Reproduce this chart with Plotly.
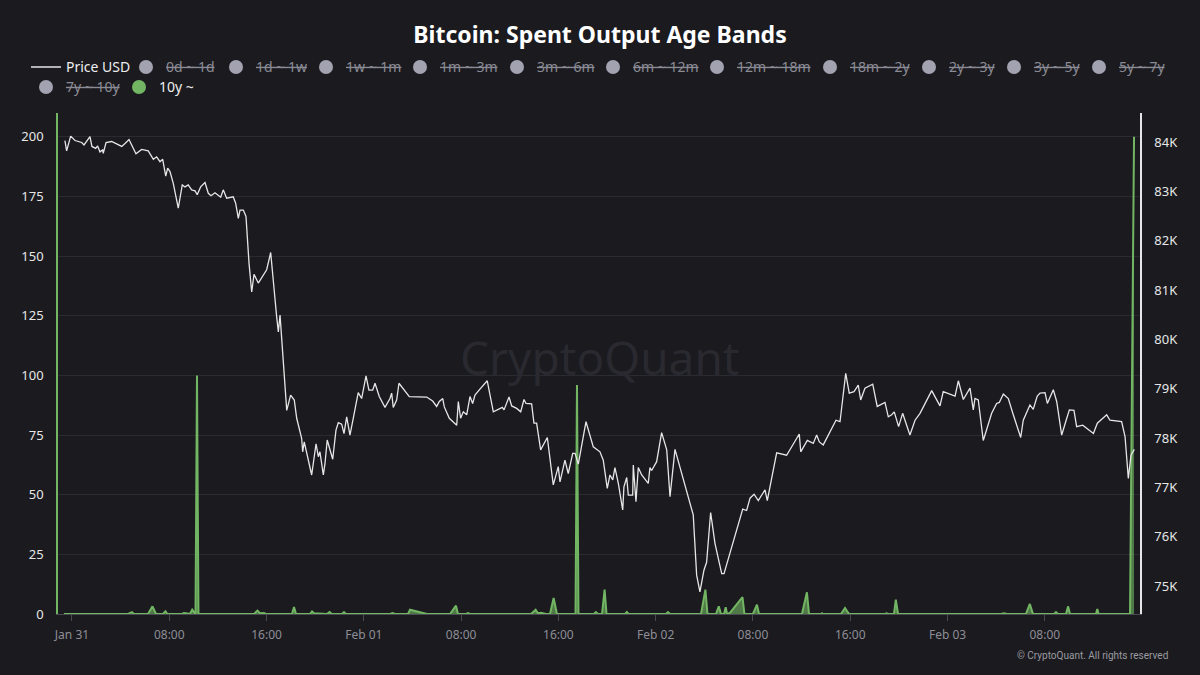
import pandas as pd
import plotly.graph_objects as go

# ---------------- data ----------------
BASE_TIME = pd.Timestamp("2026-01-31 00:00")

PRICE_HOURS = [
    -0.58, -0.44, -0.11, 0.25, 0.80, 0.99, 1.48, 1.64, 1.95, 2.11, 2.30, 2.52, 2.57, 2.80, 3.26,
    4.09, 4.36, 4.69, 5.26, 5.73, 6.27, 6.69, 6.96, 7.24, 7.46, 7.71, 7.87, 8.06, 8.33, 8.74,
    9.07, 9.29, 9.56, 9.84, 10.12, 10.30, 10.58, 10.94, 11.21, 11.43, 11.76, 12.23, 12.44, 12.72,
    13.26, 13.46, 13.68, 13.82, 14.09, 14.31, 14.56, 14.78, 14.97, 15.32, 16.01, 16.34, 16.83,
    16.97, 17.11, 17.66, 17.98, 18.28, 18.48, 18.89, 18.97, 19.10, 19.71, 20.07, 20.26, 20.39,
    20.67, 20.81, 20.99, 21.44, 21.71, 21.90, 22.18, 22.37, 22.59, 22.86, 23.13, 23.54, 23.82,
    24.18, 24.42, 24.73, 24.92, 25.27, 25.74, 26.15, 26.29, 26.42, 26.70, 26.89, 27.74, 29.17,
    29.66, 29.99, 30.21, 30.49, 30.62, 30.86, 31.03, 31.64, 31.77, 31.96, 32.18, 32.46, 32.73,
    32.95, 33.14, 33.55, 34.15, 34.65, 35.06, 35.39, 35.53, 35.94, 36.16, 36.57, 36.90, 37.17,
    37.34, 37.80, 37.99, 38.21, 38.54, 39.09, 39.58, 39.99, 40.13, 40.54, 40.81, 41.18, 41.37,
    41.64, 42.27, 42.87, 43.42, 43.69, 44.02, 44.24, 44.47, 44.65, 44.93, 45.29, 45.39, 45.62,
    45.75, 46.11, 46.16, 46.38, 46.57, 46.85, 47.39, 47.53, 47.67, 48.08, 48.49, 48.91, 49.18,
    49.59, 51.09, 51.37, 51.64, 51.97, 52.19, 52.52, 52.88, 53.43, 53.62, 54.52, 55.16, 55.48,
    55.76, 56.09, 56.44, 56.99, 57.18, 57.95, 58.77, 59.81, 59.93, 60.47, 60.96, 61.24, 61.46,
    61.78, 62.83, 63.16, 63.63, 63.92, 64.31, 64.66, 64.86, 65.21, 65.85, 66.22, 66.86, 67.13,
    67.41, 67.62, 67.98, 68.31, 68.91, 69.33, 69.74, 70.70, 71.38, 71.65, 72.62, 72.89, 73.30,
    73.85, 74.12, 74.26, 74.53, 74.94, 75.63, 76.04, 76.26, 76.59, 77.00, 77.41, 78.02, 78.23,
    78.78, 79.05, 79.38, 79.61, 80.02, 80.21, 80.70, 80.98, 81.39, 81.72, 82.02, 82.40, 82.62,
    83.12, 83.45, 84.00, 84.32, 85.09, 85.36, 86.32, 86.60, 86.87, 87.09, 87.36,
]
PRICE_USD = [
    84030, 83820, 84120, 84030, 83990, 83940, 84110, 83910, 83870, 83920, 83800, 83840, 83770, 83990, 84010,
    83910, 83970, 84050, 83760, 83850, 83820, 83650, 83700, 83600, 83650, 83310, 83470, 83400, 83160, 82660,
    83130, 83090, 83130, 83030, 83010, 82930, 83090, 83180, 82960, 82910, 82970, 82880, 83030, 82860,
    82890, 82760, 82450, 82620, 82620, 82490, 81540, 80960, 81320, 81140, 81410, 81760, 80460,
    80150, 80490, 78560, 78870, 78770, 78400, 77990, 77720, 77920, 77250, 77880, 77620, 77720,
    77250, 77490, 77960, 77570, 78160, 78310, 78280, 78090, 78430, 78060, 78400, 78920, 78800,
    79260, 78970, 78970, 79110, 78840, 78620, 78800, 78910, 78620, 78770, 79110, 78840, 78830,
    78750, 78640, 78740, 78800, 78630, 78470, 78400, 78260, 78740, 78400, 78530, 78470, 78840,
    78700, 78870, 78990, 79160, 78530, 78580, 78620, 78570, 78830, 78650, 78600, 78530, 78780,
    78700, 78690, 78300, 78300, 77760, 78010, 77050, 77420, 77110, 77550, 77280, 77690, 77690,
    77470, 78330, 77820, 77720, 77550, 76980, 77250, 77150, 77400, 77080, 76540, 77010, 77200,
    76840, 76840, 77450, 76710, 77400, 77250, 77080, 77400, 77340, 77520, 78110, 77760, 76810,
    77770, 76440, 75220, 74880, 75320, 75480, 76490, 75860, 75250, 75250, 76000, 76560, 76530,
    76780, 76860, 76730, 76950, 76730, 77700, 77650, 78080, 77720, 77950, 77890, 78060, 77920,
    77860, 78360, 78330, 79310, 78910, 78940, 79070, 78770, 79010, 79090, 78640, 78720, 78430,
    78470, 78530, 78230, 78500, 78060, 78360, 78500, 78960, 78650, 78940, 78850, 79160, 78780,
    79010, 78570, 78800, 78770, 77950, 78500, 78700, 78720, 78890, 78800, 78470, 78010, 78360,
    78670, 78580, 78850, 78910, 78920, 78700, 78980, 78740, 78060, 78330, 78570, 78560, 78230,
    78260, 78200, 78090, 78300, 78470, 78360, 78330, 78030, 77180, 77650, 77770,
]

BAND_10Y_HOURS = [
    -0.66, 4.61, 4.93, 5.10, 6.25, 6.62, 6.91, 7.48, 7.69, 7.85,
    9.05, 9.21, 9.38, 9.70, 9.89, 10.07, 10.16, 10.28, 10.40,
    14.97, 15.25, 15.46, 15.79, 15.95, 18.09, 18.26, 18.42,
    19.57, 19.74, 19.90, 20.39, 20.97, 21.18, 21.38, 22.20, 22.37, 22.53,
    26.15, 26.37, 26.56, 27.63, 27.80, 29.19, 31.09, 31.58, 31.74,
    32.40, 32.57, 32.73, 33.55, 33.63, 34.46, 34.54,
    37.75, 38.13, 38.32, 38.57, 38.98, 39.31, 39.61, 39.88,
    41.41, 41.53, 41.65, 42.93, 43.08, 43.26, 43.59, 43.80, 43.96,
    45.48, 45.63, 45.76, 48.03, 48.15, 48.27, 48.85, 49.01, 49.18,
    51.73, 52.09, 52.26, 52.96, 53.19, 53.37, 53.62, 53.76, 53.87,
    54.11, 55.14, 55.30, 56.00, 56.33, 56.50,
    60.03, 60.44, 60.61, 61.60, 61.68, 61.76, 63.24, 63.57, 63.90,
    66.86, 66.99, 67.11, 67.60, 67.75, 67.93,
    76.40, 76.64, 76.89, 78.45, 78.77, 79.03, 80.76, 80.92, 81.09,
    81.74, 81.92, 82.07, 84.21, 84.32, 84.42, 87.01, 87.34,
]
BAND_10Y_VALUES = [
    0, 0, 0.8, 0, 0, 3.2, 0, 0, 1.1, 0,
    0, 0.4, 0.3, 0, 1.8, 0.5, 0, 100, 0,
    0, 1.4, 0.3, 0.4, 0, 0, 2.9, 0,
    0, 1.1, 0.3, 0.3, 0, 0.8, 0, 0, 0.8, 0,
    0, 0.4, 0, 0, 1.8, 0, 0, 3.5, 0,
    0, 0.4, 0, 0, 0.3, 0.3, 0,
    0, 1.8, 0.3, 0.5, 0, 0, 6.7, 0,
    0, 96, 0, 0, 0.8, 0, 0, 10.2, 0,
    0, 0.8, 0, 0, 0.3, 0, 0, 0.8, 0,
    0, 10.2, 0, 0, 3.2, 0, 0, 2.8, 0,
    0.5, 7.1, 0, 0, 3.9, 0,
    0, 9.1, 0, 0, 0.3, 0, 0, 2.5, 0,
    0, 0.3, 0, 0, 6.0, 0,
    0, 0.3, 0, 0, 4.2, 0, 0, 0.8, 0,
    0, 3.2, 0, 0, 2.1, 0, 0, 200,
]

HIDDEN_BANDS_ROW1A = ["0d ~ 1d", "1d ~ 1w", "1w ~ 1m", "1m ~ 3m", "3m ~ 6m"]
HIDDEN_BANDS_ROW1B = ["6m ~ 12m", "12m ~ 18m", "18m ~ 2y", "2y ~ 3y", "3y ~ 5y", "5y ~ 7y"]
HIDDEN_BANDS_ROW2 = ["7y ~ 10y"]
VISIBLE_BAND = "10y ~"
PRICE_NAME = "Price USD"

X_TICK_HOURS = [0, 8, 16, 24, 32, 40, 48, 56, 64, 72, 80]
X_TICK_LABELS = ["Jan 31", "08:00", "16:00", "Feb 01", "08:00", "16:00",
                 "Feb 02", "08:00", "16:00", "Feb 03", "08:00"]
LEFT_TICKS = [0, 25, 50, 75, 100, 125, 150, 175, 200]
RIGHT_TICKS = [75000, 76000, 77000, 78000, 79000, 80000, 81000, 82000, 83000, 84000]
RIGHT_TICK_LABELS = ["75K", "76K", "77K", "78K", "79K", "80K", "81K", "82K", "83K", "84K"]

X_RANGE_HOURS = [-1.15, 87.83]
LEFT_RANGE = [0, 210]
RIGHT_RANGE = [74432, 84588]

# ---------------- styling ----------------
FONT = "Noto Sans"
BG = "#1a1a1f"
GREEN = "#72b563"
GREEN_FILL = "rgba(114,181,99,0.62)"
PRICE_COLOR = "#e6e6e6"
HIDDEN_DOT = "#a3a2b0"
HIDDEN_TEXT = "#8b8b95"
PRICE_WIDTH = 55
ROW1A_WIDTHS = [45, 45, 49, 52, 62]
ROW1B_WIDTHS = [59, 68, 54, 40, 40, 52]
ROW2_WIDTHS = [48, 45]
NO_DATA = [None]   # legend-only placeholder entries (series switched off)


def to_time(hours):
    return BASE_TIME + pd.to_timedelta(pd.Series(hours, dtype=float), unit="h")


def hidden_entry(band, width, legend_id):
    return go.Scatter(
        x=NO_DATA, y=NO_DATA, mode="markers", marker=dict(color=HIDDEN_DOT, size=14),
        name=f"<span style='color:{HIDDEN_TEXT}'><s>{band}</s></span>",
        legend=legend_id, legendwidth=width, yaxis="y", hoverinfo="skip", showlegend=True,
    )


fig = go.Figure()

# 10y ~ band (area)
fig.add_trace(go.Scatter(
    x=to_time(BAND_10Y_HOURS), y=BAND_10Y_VALUES, mode="lines",
    line=dict(color=GREEN, width=2), fill="tozeroy", fillcolor=GREEN_FILL,
    name=VISIBLE_BAND, legendgroup="10y", showlegend=False, yaxis="y",
    hoverinfo="skip",
))

# price
fig.add_trace(go.Scatter(
    x=to_time(PRICE_HOURS), y=PRICE_USD, mode="lines",
    line=dict(color=PRICE_COLOR, width=1.3), name=PRICE_NAME, yaxis="y2",
    legend="legend", legendwidth=PRICE_WIDTH, hoverinfo="skip", showlegend=True,
))

for band, w in zip(HIDDEN_BANDS_ROW1A, ROW1A_WIDTHS):
    fig.add_trace(hidden_entry(band, w, "legend"))
for band, w in zip(HIDDEN_BANDS_ROW1B, ROW1B_WIDTHS):
    fig.add_trace(hidden_entry(band, w, "legend3"))
for band, w in zip(HIDDEN_BANDS_ROW2, ROW2_WIDTHS[:1]):
    fig.add_trace(hidden_entry(band, w, "legend2"))

# legend entry for the visible band
fig.add_trace(go.Scatter(
    x=NO_DATA, y=NO_DATA, mode="markers", marker=dict(color=GREEN, size=14),
    name=VISIBLE_BAND, legendgroup="10y", legend="legend2",
    legendwidth=ROW2_WIDTHS[1], yaxis="y", hoverinfo="skip", showlegend=True,
))

legend_common = dict(
    orientation="h", xanchor="left", yanchor="top",
    font=dict(family=FONT, size=14, color="#eeeeee"),
    bgcolor="rgba(0,0,0,0)", itemsizing="trace", itemwidth=30,
    tracegroupgap=0, traceorder="normal",
)
ROW1_Y = 1.123
ROW2_Y = 1.083

fig.update_layout(
    width=1200, height=675, showlegend=True,
    paper_bgcolor=BG, plot_bgcolor=BG,
    margin=dict(l=58, r=60, t=113, b=61, autoexpand=False),
    font=dict(family=FONT, color="#e6e6e6"),
    title=dict(text="<b>Bitcoin: Spent Output Age Bands</b>", x=0.5, xanchor="center",
               y=1 - 35 / 675, yanchor="middle", yref="container",
               font=dict(family=FONT, size=23, color="#ffffff")),
    legend=dict(x=(26 - 58) / 1082, y=ROW1_Y, **legend_common),
    legend3=dict(x=(593 - 58) / 1082, y=ROW1_Y, **legend_common),
    legend2=dict(x=(26 - 58) / 1082, y=ROW2_Y, **legend_common),
    hovermode=False,
    xaxis=dict(
        type="date", range=list(to_time(X_RANGE_HOURS)),
        tickvals=list(to_time(X_TICK_HOURS)), ticktext=X_TICK_LABELS,
        showgrid=False, zeroline=False, showline=True, linecolor="#4a4a52", linewidth=1,
        ticks="outside", ticklen=6, tickcolor="#4a4a52",
        tickfont=dict(family=FONT, size=12, color="#8e8e96"), layer="below traces",
        ticklabelstandoff=4,
    ),
    yaxis=dict(
        range=LEFT_RANGE, tickvals=LEFT_TICKS, showgrid=True, gridcolor="#2a2a31", gridwidth=1,
        zeroline=False, showline=True, linecolor=GREEN, linewidth=1.5,
        tickfont=dict(family=FONT, size=13, color="#e6e6e6"), ticklabelstandoff=10,
    ),
    yaxis2=dict(
        overlaying="y", side="right", range=RIGHT_RANGE, tickvals=RIGHT_TICKS,
        ticktext=RIGHT_TICK_LABELS, showgrid=False, zeroline=False, showline=True,
        linecolor="#e6e6e6", linewidth=1.5,
        tickfont=dict(family=FONT, size=13, color="#e6e6e6"), ticklabelstandoff=10,
    ),
    annotations=[
        dict(text="CryptoQuant", x=0.5, y=(614 - 357) / 501, xref="paper", yref="paper",
             showarrow=False, font=dict(family=FONT, size=46, color="#29292f")),
        dict(text="© CryptoQuant. All rights reserved", x=(1170 - 58) / 1082, y=(614 - 655) / 501,
             xref="paper", yref="paper", xanchor="right", yanchor="middle", showarrow=False,
             font=dict(family="Roboto", size=10, color="#9a9aa0")),
    ],
)

fig.write_html(
    "out.html",
    config={"displayModeBar": False},
    post_script="document.body.style.margin='0';document.body.style.overflow='hidden';",
)
